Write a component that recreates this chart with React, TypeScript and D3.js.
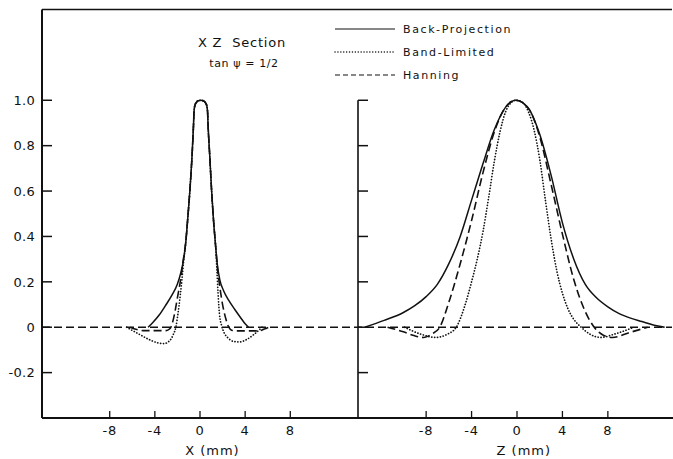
import React, { useEffect, useRef } from 'react';
import * as d3 from 'd3';

type Pt = [number, number];

// X section (left panel), [mm, relative value]
const xBackProjection: Pt[] = [
  [-4.6, 0], [-4.2, 0.02], [-3.6, 0.055], [-3.0, 0.1], [-2.5, 0.14], [-2.0, 0.19],
  [-1.7, 0.24], [-1.45, 0.3], [-1.25, 0.38], [-1.1, 0.47], [-0.9, 0.6], [-0.7, 0.76],
  [-0.57, 0.897], [-0.53, 0.95], [-0.45, 0.978], [-0.33, 0.99], [-0.15, 0.998], [0.07, 1.0],
  [0.29, 0.998], [0.47, 0.99], [0.59, 0.978], [0.67, 0.95], [0.71, 0.897], [0.87, 0.75],
  [1.03, 0.6], [1.2, 0.47], [1.38, 0.36], [1.55, 0.27], [1.75, 0.21], [2.1, 0.16],
  [2.55, 0.118], [3.1, 0.077], [3.6, 0.042], [4.0, 0.015], [4.3, 0],
];
const xBandLimited: Pt[] = [
  [-6.5, 0], [-5.5, -0.028], [-4.6, -0.052], [-3.8, -0.068], [-3.2, -0.072], [-2.7, -0.06],
  [-2.35, -0.03], [-2.14, 0], [-1.95, 0.06], [-1.75, 0.14], [-1.6, 0.21], [-1.45, 0.29],
  [-1.25, 0.38], [-1.1, 0.47], [-0.9, 0.6], [-0.7, 0.76], [-0.57, 0.897], [-0.53, 0.95],
  [-0.45, 0.978], [-0.33, 0.99], [-0.15, 0.998], [0.07, 1.0], [0.29, 0.998], [0.47, 0.99],
  [0.59, 0.978], [0.67, 0.95], [0.71, 0.897], [0.87, 0.75], [1.03, 0.6], [1.2, 0.47],
  [1.38, 0.36], [1.5, 0.25], [1.6, 0.15], [1.72, 0.06], [1.9, 0.01], [2.1, -0.02],
  [2.5, -0.048], [3.0, -0.063], [3.5, -0.065], [4.1, -0.055], [4.7, -0.035], [5.5, 0],
];
const xHanning: Pt[] = [
  [-6.2, 0], [-5.6, -0.01], [-4.9, -0.015], [-3.0, -0.015], [-2.7, -0.008], [-2.5, 0.01],
  [-2.25, 0.06], [-2.0, 0.13], [-1.75, 0.2], [-1.5, 0.29], [-1.25, 0.38], [-1.1, 0.47],
  [-0.9, 0.6], [-0.7, 0.76], [-0.57, 0.897], [-0.53, 0.95], [-0.45, 0.978], [-0.33, 0.99],
  [-0.15, 0.998], [0.07, 1.0], [0.29, 0.998], [0.47, 0.99], [0.59, 0.978], [0.67, 0.95],
  [0.71, 0.897], [0.87, 0.75], [1.03, 0.6], [1.2, 0.47], [1.38, 0.36], [1.55, 0.26],
  [1.75, 0.18], [2.0, 0.1], [2.3, 0.035], [2.55, 0], [2.8, -0.013], [3.2, -0.016],
  [5.2, -0.016], [5.7, -0.008], [6.1, 0],
];

// Z section (right panel)
const zBackProjection: Pt[] = [
  [-13.4, 0], [-11.7, 0.03], [-10, 0.065], [-9, 0.095], [-8, 0.135], [-7, 0.19],
  [-6, 0.28], [-5, 0.4], [-4, 0.56], [-3, 0.72], [-2, 0.87], [-1, 0.97], [-0.1, 1.0],
  [1, 0.965], [2, 0.85], [3, 0.67], [4, 0.46], [5, 0.3], [6, 0.19], [7, 0.13], [8, 0.09],
  [9, 0.06], [10, 0.04], [11, 0.025], [12, 0.01], [13, 0],
];
const zBandLimited: Pt[] = [
  [-9.9, 0], [-8.5, -0.03], [-7.2, -0.045], [-6.1, -0.03], [-5.35, 0], [-4.5, 0.11],
  [-4, 0.2], [-3.5, 0.3], [-3, 0.42], [-2.5, 0.57], [-2, 0.73], [-1.5, 0.86], [-1, 0.95],
  [-0.5, 0.99], [-0.1, 1.0], [0.5, 0.99], [1, 0.95], [1.5, 0.87], [2, 0.74], [2.5, 0.56],
  [3, 0.39], [3.5, 0.25], [4, 0.15], [4.5, 0.08], [5, 0.035], [5.65, 0], [6.4, -0.03],
  [7.4, -0.045], [8.6, -0.03], [10.3, 0],
];
const zHanning: Pt[] = [
  [-11.4, 0], [-10, -0.02], [-9, -0.038], [-8.2, -0.045], [-7.5, -0.03], [-6.8, 0],
  [-6, 0.11], [-5, 0.28], [-4, 0.47], [-3, 0.68], [-2, 0.86], [-1, 0.97], [-0.1, 1.0],
  [1, 0.965], [2, 0.84], [3, 0.63], [4, 0.41], [5, 0.21], [6, 0.07], [6.8, 0],
  [7.6, -0.035], [8.4, -0.045], [9.8, -0.025], [11.5, 0],
];

const yTicks = [-0.2, 0, 0.2, 0.4, 0.6, 0.8, 1.0];
const yTickLabels = ['-0.2', '0', '0.2', '0.4', '0.6', '0.8', '1.0'];
const xTicks = [-8, -4, 0, 4, 8];
const legendLabels = ['Back-Projection', 'Band-Limited', 'Hanning'];

const FONT = "'DejaVu Sans', sans-serif";
const DOTTED = '0.1 2.8';
const DASHED = '8 4';

const App = () => {
  const ref = useRef<SVGSVGElement>(null);

  useEffect(() => {
    const width = 673;
    const height = 459;
    const left = 42;
    const mid = 358;
    const right = 676;
    const top = 9.5;
    const bottom = 418;

    const svg = d3.select(ref.current);
    svg.selectAll('*').remove();
    svg.attr('width', width).attr('height', height);

    svg.append('rect').attr('width', width).attr('height', height).attr('fill', '#fff');

    const y = d3.scaleLinear().domain([-0.4, 1.4]).range([bottom, top]);
    const xL = d3.scaleLinear().domain([-14, 14]).range([left, mid]);
    const xR = d3.scaleLinear().domain([-14, 14]).range([mid, right]);

    // frame
    const frame = svg.append('g').attr('stroke', '#111').attr('fill', 'none');
    frame.append('line').attr('x1', left).attr('x2', 672).attr('y1', top).attr('y2', top).attr('stroke-width', 1.5);
    frame.append('line').attr('x1', left).attr('x2', left).attr('y1', top).attr('y2', bottom).attr('stroke-width', 2);
    frame.append('line').attr('x1', left).attr('x2', 673).attr('y1', bottom).attr('y2', bottom).attr('stroke-width', 2);
    frame.append('line').attr('x1', mid).attr('x2', mid).attr('y1', y(1.0)).attr('y2', bottom).attr('stroke-width', 1.6);

    // y ticks on both panels
    [left, mid].forEach((x0) => {
      frame
        .selectAll(null)
        .data(yTicks)
        .enter()
        .append('line')
        .attr('x1', x0)
        .attr('x2', x0 + 10)
        .attr('y1', (d) => y(d))
        .attr('y2', (d) => y(d))
        .attr('stroke-width', 1.5);
    });

    svg
      .append('g')
      .selectAll('text')
      .data(yTicks)
      .enter()
      .append('text')
      .attr('x', 35)
      .attr('y', (d) => y(d))
      .attr('dy', '0.36em')
      .attr('text-anchor', 'end')
      .style('font', `13px ${FONT}`)
      .style('letter-spacing', '0.3px')
      .attr('fill', '#111')
      .text((d, i) => yTickLabels[i]);

    // x ticks (pointing up from the bottom axis)
    [xL, xR].forEach((xs) => {
      frame
        .selectAll(null)
        .data(xTicks)
        .enter()
        .append('line')
        .attr('x1', (d) => xs(d))
        .attr('x2', (d) => xs(d))
        .attr('y1', bottom)
        .attr('y2', bottom - 7)
        .attr('stroke-width', 1.3);

      svg
        .append('g')
        .selectAll('text')
        .data(xTicks)
        .enter()
        .append('text')
        .attr('x', (d) => xs(d))
        .attr('y', 435)
        .attr('text-anchor', 'middle')
        .style('font', `13px ${FONT}`)
        .style('letter-spacing', '0.8px')
        .attr('fill', '#111')
        .text((d) => String(d));
    });

    const axisTitle = (xs: d3.ScaleLinear<number, number>, at: number, label: string) => {
      svg
        .append('text')
        .attr('x', xs(at))
        .attr('y', 455)
        .attr('text-anchor', 'middle')
        .style('font', `13px ${FONT}`)
        .style('letter-spacing', '1px')
        .attr('fill', '#111')
        .text(label);
    };
    axisTitle(xL, 1.1, 'X (mm)');
    axisTitle(xR, 0.6, 'Z (mm)');

    // zero line
    svg
      .append('line')
      .attr('x1', left)
      .attr('x2', 672)
      .attr('y1', y(0))
      .attr('y2', y(0))
      .attr('stroke', '#111')
      .attr('stroke-width', 1.6)
      .attr('stroke-dasharray', DASHED);

    const line = (xs: d3.ScaleLinear<number, number>) =>
      d3
        .line<Pt>()
        .x((d) => xs(d[0]))
        .y((d) => y(d[1]))
        .curve(d3.curveMonotoneX);

    const draw = (data: Pt[], xs: d3.ScaleLinear<number, number>, dash: string | null, w: number) => {
      svg
        .append('path')
        .datum(data)
        .attr('d', line(xs))
        .attr('fill', 'none')
        .attr('stroke', '#111')
        .attr('stroke-width', w)
        .attr('stroke-linecap', dash === DOTTED ? 'round' : 'butt')
        .attr('stroke-dasharray', dash);
    };

    draw(xBandLimited, xL, DOTTED, 1.7);
    draw(xHanning, xL, DASHED, 1.6);
    draw(xBackProjection, xL, null, 1.5);
    draw(zBandLimited, xR, DOTTED, 1.7);
    draw(zHanning, xR, DASHED, 1.6);
    draw(zBackProjection, xR, null, 1.5);

    // title
    svg
      .append('text')
      .attr('x', 242)
      .attr('y', 47)
      .attr('text-anchor', 'middle')
      .style('font', `13px ${FONT}`)
      .style('letter-spacing', '0.8px')
      .style('white-space', 'pre')
      .attr('fill', '#111')
      .text('X Z  Section');
    svg
      .append('text')
      .attr('x', 244)
      .attr('y', 67)
      .attr('text-anchor', 'middle')
      .style('font', `11px ${FONT}`)
      .style('letter-spacing', '0.6px')
      .attr('fill', '#111')
      .text('tan ψ = 1/2');

    // legend
    const dashes = [null, DOTTED, '5 3'];
    const legend = svg.append('g');
    legendLabels.forEach((label, i) => {
      const ly = 29 + i * 23;
      legend
        .append('line')
        .attr('x1', 335)
        .attr('x2', 395)
        .attr('y1', ly)
        .attr('y2', ly)
        .attr('stroke', '#111')
        .attr('stroke-width', i === 1 ? 1.4 : 1.2)
        .attr('stroke-linecap', i === 1 ? 'round' : 'butt')
        .attr('stroke-dasharray', dashes[i]);
      legend
        .append('text')
        .attr('x', 403)
        .attr('y', ly)
        .attr('dy', '0.36em')
        .style('font', `11px ${FONT}`)
        .style('letter-spacing', '1.6px')
        .attr('fill', '#111')
        .text(label);
    });
  }, []);

  return <svg ref={ref} style={{ position: 'absolute', left: 0, top: 0 }} />;
};

export default App;
